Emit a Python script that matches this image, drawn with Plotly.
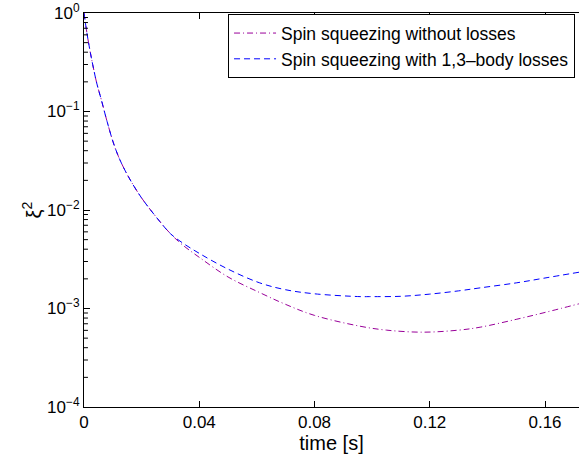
import plotly.graph_objects as go

# time [s]
t_common = [0.0, 0.001, 0.002, 0.003, 0.0044, 0.006, 0.008, 0.010, 0.012, 0.015, 0.0198, 0.0264, 0.030]
xi_common = [1.0, 0.631, 0.427, 0.302, 0.195, 0.132, 0.0794, 0.0501, 0.0347, 0.0229, 0.0135, 0.00759, 0.00575]

t_tail_a = [0.034, 0.04, 0.05, 0.061, 0.07, 0.08, 0.0958, 0.105, 0.1177, 0.13, 0.1375, 0.15, 0.16, 0.172]
xi_no_loss_tail = [0.00447, 0.00331, 0.00209, 0.00145, 0.00110, 0.000851, 0.000661, 0.000603, 0.000575,
                   0.000603, 0.000646, 0.000776, 0.000912, 0.00112]

t_tail_b = [0.034, 0.04, 0.05, 0.061, 0.07, 0.08, 0.0958, 0.099, 0.11, 0.12, 0.13, 0.1375, 0.15, 0.16, 0.172]
xi_loss_tail = [0.00468, 0.00363, 0.00251, 0.00182, 0.00155, 0.00141, 0.00132, 0.00132, 0.00133,
                0.00140, 0.00151, 0.00162, 0.00182, 0.00204, 0.00234]

t_no_loss = t_common + t_tail_a
xi_no_loss = xi_common + xi_no_loss_tail
t_loss = t_common + t_tail_b
xi_loss = xi_common + xi_loss_tail

x_ticks = [0, 0.04, 0.08, 0.12, 0.16]
x_ticklabels = ["0", "0.04", "0.08", "0.12", "0.16"]
y_ticks = [1e0, 1e-1, 1e-2, 1e-3, 1e-4]
y_ticklabels = ["10<sup>0</sup>", "10<sup>−1</sup>", "10<sup>−2</sup>", "10<sup>−3</sup>", "10<sup>−4</sup>"]
minor_digits = [2, 3, 4, 5, 6, 7, 8, 9]
decades = [1e-4, 1e-3, 1e-2, 1e-1]
y_minor = [d * k for d in decades for k in minor_digits]

font_family = "Liberation Sans, Arial, sans-serif"

fig = go.Figure()
fig.add_trace(go.Scatter(
    x=t_no_loss, y=xi_no_loss, mode="lines", line_shape="spline",
    name="Spin squeezing without losses",
    line=dict(color="#990099", width=1, dash="6px,3px,1px,3px"),
))
fig.add_trace(go.Scatter(
    x=t_loss, y=xi_loss, mode="lines", line_shape="spline",
    name="Spin squeezing with 1,3\u2013body losses",
    line=dict(color="#0000ff", width=1, dash="6px,4px"),
))

fig.update_layout(
    width=579, height=459,
    margin=dict(l=84, r=0, t=13, b=52),
    paper_bgcolor="white", plot_bgcolor="white",
    font=dict(family=font_family, size=14, color="black"),
    showlegend=True,
    legend=dict(
        x=0.992, y=0.997, xanchor="right", yanchor="top",
        bordercolor="black", borderwidth=1, bgcolor="white",
        font=dict(size=17.5, family=font_family),
        tracegroupgap=0, itemwidth=42,
    ),
    xaxis=dict(
        range=[0, 0.1718], tickvals=x_ticks, ticktext=x_ticklabels,
        showgrid=False, zeroline=False,
        showline=True, linecolor="black", linewidth=1, mirror="ticks",
        ticks="inside", ticklen=6, tickcolor="black", tickwidth=1,
        tickfont=dict(size=17),
        title=dict(text="time [s]", font=dict(size=20), standoff=0),
    ),
    yaxis=dict(
        type="log", range=[-4, 0], tickvals=y_ticks, ticktext=y_ticklabels,
        showgrid=False, zeroline=False,
        showline=True, linecolor="black", linewidth=1, mirror=False,
        ticks="inside", ticklen=6, tickcolor="black", tickwidth=1,
        tickfont=dict(size=17),
        title=dict(text="ξ<sup>2</sup>", font=dict(size=20), standoff=0),
    ),
)

# minor log ticks on the y axis (MATLAB style), drawn as short inside marks
for v in y_minor:
    fig.add_shape(type="line", xref="paper", yref="y", x0=0, x1=0.008, y0=v, y1=v,
                  line=dict(color="black", width=1))

fig.write_html("out.html", config={"displayModeBar": False},
               post_script="document.body.style.margin='0';document.body.style.overflow='hidden';")
